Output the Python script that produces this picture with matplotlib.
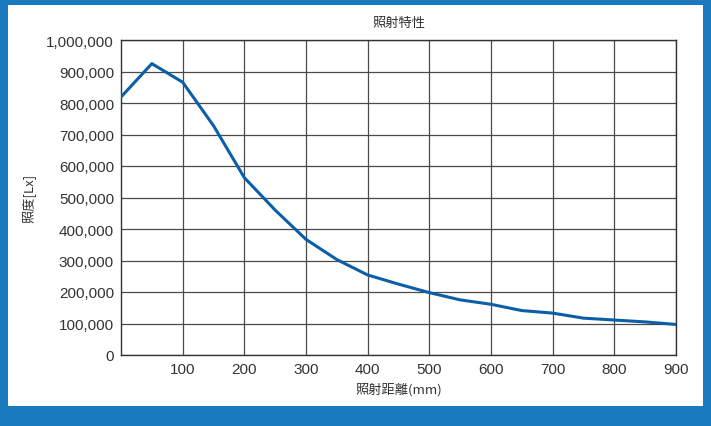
import matplotlib
matplotlib.use("Agg")
import matplotlib.pyplot as plt
from matplotlib.patches import Rectangle
from matplotlib.ticker import FuncFormatter

plt.rcParams['font.family'] = ['Noto Sans CJK JP', 'DejaVu Sans']

distance = [0, 50, 100, 150, 200, 250, 300, 350, 400, 450, 500,
            550, 600, 650, 700, 750, 800, 850, 900]
lux = [819000, 925000, 866000, 728000, 563000, 460000, 367000, 303000,
       254000, 225000, 198000, 175000, 161000, 141000, 133000, 117000,
       111000, 105000, 97000]
x_ticks = [100, 200, 300, 400, 500, 600, 700, 800, 900]
y_ticks = list(range(0, 1000001, 100000))

W, H = 711, 427
fig = plt.figure(figsize=(W / 100, H / 100), dpi=100, facecolor="#1a7abf")
fig.add_artist(Rectangle((8 / W, 20 / H), 695 / W, 401 / H,
                         transform=fig.transFigure, facecolor="white",
                         edgecolor="none", zorder=-5))

ax = fig.add_axes([121 / W, (H - 356) / H, 555 / W, 315 / H])
ax.set_zorder(2)
ax.plot(distance, lux, color="#0b5ea8", linewidth=2.2, zorder=3)

ax.set_xlim(0, 900)
ax.set_ylim(0, 1000000)
ax.set_xticks(x_ticks)
ax.set_yticks(y_ticks)
ax.yaxis.set_major_formatter(FuncFormatter(lambda v, p: f"{int(v):,}"))
ax.grid(True, color="#4a4a4a", linewidth=0.9)
ax.tick_params(length=0, labelsize=11, colors="#333333", pad=5)
for lbl in ax.get_xticklabels() + ax.get_yticklabels():
    lbl.set_family("Liberation Sans")
for s in ax.spines.values():
    s.set_color("#333333")
    s.set_linewidth(1.0)

ax.set_title("照射特性", fontsize=9.5, color="#333333", pad=10)
ax.set_xlabel("照射距離(mm)", fontsize=9.5, color="#333333", labelpad=4)
ax.set_ylabel("照度[Lx]", fontsize=9.5, color="#333333", labelpad=8)

fig.savefig("out.png", dpi=100, facecolor=fig.get_facecolor())
